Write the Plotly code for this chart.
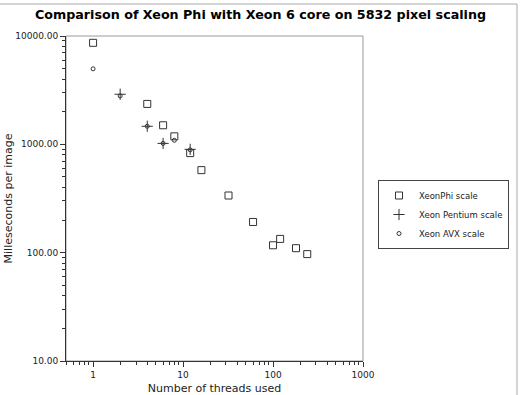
import plotly.graph_objects as go

# Data
phi_threads = [1, 4, 6, 8, 12, 16, 32, 60, 100, 120, 180, 240]
phi_ms = [8650, 2360, 1500, 1185, 830, 578, 337, 192, 117, 134, 110, 97]

pent_threads = [2, 4, 6, 12]
pent_ms = [2900, 1468, 1020, 899]

avx_threads = [1, 2, 4, 6, 8, 12]
avx_ms = [4980, 2800, 1468, 1020, 1090, 890]

x_ticks = [1, 10, 100, 1000]
x_ticktext = ["1", "10", "100", "1000"]
y_ticks = [10, 100, 1000, 10000]

x_minor = [m * d for d in (0.1, 1, 10, 100) for m in range(2, 10) if 0.5 <= m * d < 1000]
y_minor = [m * d for d in (10, 100, 1000) for m in range(2, 10)]

ink = "#333333"

fig = go.Figure()
fig.add_trace(go.Scatter(
    x=phi_threads, y=phi_ms, mode="markers", name="XeonPhi scale",
    marker=dict(symbol="square-open", size=7, color=ink, line=dict(width=1, color=ink)),
))
fig.add_trace(go.Scatter(
    x=pent_threads, y=pent_ms, mode="markers", name="Xeon Pentium scale",
    marker=dict(symbol="cross-thin", size=8, color=ink, line=dict(width=1, color=ink)),
))
fig.add_trace(go.Scatter(
    x=avx_threads, y=avx_ms, mode="markers", name="Xeon AVX scale",
    marker=dict(symbol="circle-open", size=4, color=ink, line=dict(width=1, color=ink)),
))

L, R, T, B = 66, 158, 36, 34
W, H = 521, 395
pw, ph = W - L - R, H - T - B

def px_x(p):
    return (p - L) / pw

def px_y(p):
    return (H - B - p) / ph

fig.update_layout(
    width=W, height=H,
    margin=dict(l=L, r=R, t=T, b=B, autoexpand=False),
    paper_bgcolor="white", plot_bgcolor="white",
    font=dict(family="DejaVu Sans", color="#222222"),
    title=dict(text="<b>Comparison of Xeon Phi with Xeon 6 core on 5832 pixel scaling</b>",
               x=0.5, xanchor="center", y=1 - 15 / H, yanchor="middle",
               font=dict(size=12.7, color="black")),
    showlegend=True,
    legend=dict(x=px_x(378), y=px_y(180), xanchor="left", yanchor="top",
                bordercolor="#444444", borderwidth=1, bgcolor="white",
                font=dict(size=8.5), itemwidth=30, tracegroupgap=0),
    xaxis=dict(type="log", range=[-0.30103, 3], tickvals=x_ticks, ticktext=x_ticktext,
               ticks="outside", ticklen=5, tickcolor="#333", tickfont=dict(size=9),
               showline=True, linecolor="#333", linewidth=1, showgrid=False, zeroline=False,
               automargin=False,
               minor=dict(tickvals=x_minor, ticks="outside", ticklen=3, tickcolor="#333", showgrid=False),
               title=dict(text="Number of threads used", font=dict(size=11), standoff=7)),
    yaxis=dict(type="log", range=[1, 4], tickvals=y_ticks, tickformat=".2f",
               ticks="outside", ticklen=5, tickcolor="#333", tickfont=dict(size=9),
               showline=True, linecolor="#333", linewidth=1, showgrid=False, zeroline=False,
               automargin=False,
               minor=dict(tickvals=y_minor, ticks="outside", ticklen=3, tickcolor="#333", showgrid=False),
               title=dict(text="Milleseconds per image", font=dict(size=11), standoff=0)),
    shapes=[
        dict(type="rect", xref="x domain", yref="y domain", x0=0, x1=1, y0=0, y1=1,
             line=dict(color="#999999", width=1), layer="below"),
        dict(type="rect", xref="paper", yref="paper", x0=px_x(-20), x1=px_x(517),
             y0=px_y(430), y1=px_y(4), line=dict(color="#aaaaaa", width=1), layer="below"),
    ],
)

fig.write_html("out.html")
